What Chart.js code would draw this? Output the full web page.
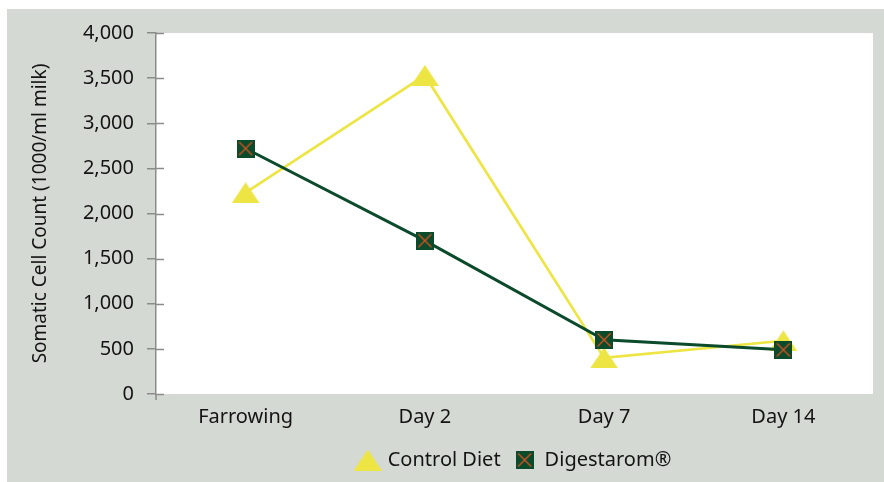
<!DOCTYPE html>
<html>
<head>
<meta charset="utf-8">
<script src="https://cdn.jsdelivr.net/npm/chart.js@4"></script>
<style>
  html, body { margin: 0; padding: 0; background: #ffffff; }
  #wrap { width: 884px; height: 482px; }
</style>
</head>
<body>
<div id="wrap"><canvas id="scc" width="884" height="482"></canvas></div>
<script>
  // ── data ──────────────────────────────────────────
  var days = ["Farrowing", "Day 2", "Day 7", "Day 14"];
  var controlDiet = [2230, 3530, 400, 590];
  var digestarom = [2720, 1700, 600, 490];
  var yTicks = [0, 500, 1000, 1500, 2000, 2500, 3000, 3500, 4000];

  var YELLOW = "#ece544";
  var GREEN = "#0b4a2b";
  var ORANGE = "#dd5420";
  var PANEL = "#d5d9d3";
  var AXIS = "#8c8c8c";
  var TEXT = "#141414";
  var FONT = "'Noto Sans', 'Open Sans', sans-serif";

  // ── marker images ─────────────────────────────────
  function triangleMark(w, h) {
    var c = document.createElement("canvas");
    c.width = w; c.height = h;
    var g = c.getContext("2d");
    g.fillStyle = YELLOW;
    g.beginPath();
    g.moveTo(w / 2, 0);
    g.lineTo(w, h);
    g.lineTo(0, h);
    g.closePath();
    g.fill();
    return c;
  }
  function crossBox(s) {
    var c = document.createElement("canvas");
    c.width = s; c.height = s;
    var g = c.getContext("2d");
    g.fillStyle = GREEN;
    g.fillRect(0, 0, s, s);
    g.strokeStyle = ORANGE;
    g.lineWidth = 1.3;
    g.beginPath();
    g.moveTo(2.5, 2.5); g.lineTo(s - 2.5, s - 2.5);
    g.moveTo(s - 2.5, 2.5); g.lineTo(2.5, s - 2.5);
    g.stroke();
    return c;
  }
  var triImg = triangleMark(28, 21);
  var boxImg = crossBox(18);

  // ── background + crossing tick marks ─────────────
  var panelPlugin = {
    id: "panel",
    beforeDraw: function (chart) {
      var ctx = chart.ctx, a = chart.chartArea;
      ctx.save();
      ctx.fillStyle = "#ffffff";
      ctx.fillRect(0, 0, chart.width, chart.height);
      ctx.fillStyle = PANEL;
      ctx.fillRect(7, 9, chart.width - 7, chart.height - 9);
      ctx.fillStyle = "#ffffff";
      ctx.fillRect(a.left, a.top, a.right - a.left, a.bottom - a.top);
      ctx.restore();
    },
    afterDraw: function (chart) {
      var ctx = chart.ctx, y = chart.scales.y, a = chart.chartArea;
      ctx.save();
      ctx.strokeStyle = AXIS;
      ctx.lineWidth = 1.5;
      ctx.beginPath();
      yTicks.forEach(function (v) {
        var py = Math.round(y.getPixelForValue(v)) + 0.5;
        ctx.moveTo(a.left, py);
        ctx.lineTo(a.left + 8, py);
      });
      ctx.moveTo(a.left, a.bottom);
      ctx.lineTo(a.left, a.bottom + 6);
      ctx.stroke();
      ctx.restore();
    }
  };

  new Chart(document.getElementById("scc").getContext("2d"), {
    type: "line",
    data: {
      labels: days,
      datasets: [
        {
          label: "Control Diet",
          data: controlDiet,
          borderColor: YELLOW,
          backgroundColor: YELLOW,
          borderWidth: 2.7,
          tension: 0,
          pointStyle: triImg,
          order: 1
        },
        {
          label: "Digestarom\u00AE",
          data: digestarom,
          borderColor: GREEN,
          backgroundColor: GREEN,
          borderWidth: 3,
          tension: 0,
          pointStyle: boxImg,
          order: 0
        }
      ]
    },
    options: {
      responsive: false,
      animation: false,
      layout: { padding: { left: 20, top: 33, right: 11, bottom: 2 } },
      plugins: {
        tooltip: { enabled: false },
        legend: {
          position: "bottom",
          fullSize: false,
          labels: {
            usePointStyle: true,
            color: TEXT,
            font: { family: FONT, size: 20 },
            padding: 14,
            sort: function (a, b) { return a.datasetIndex - b.datasetIndex; }
          }
        }
      },
      scales: {
        x: {
          offset: true,
          grid: { display: false },
          border: { display: false },
          ticks: { color: TEXT, font: { family: FONT, size: 20 }, padding: 3 },
          afterFit: function (s) { s.height = 42; }
        },
        y: {
          min: 0,
          max: 4000,
          afterBuildTicks: function (s) {
            s.ticks = yTicks.map(function (v) { return { value: v }; });
          },
          grid: { drawOnChartArea: false, drawTicks: true, tickLength: 9, color: AXIS, lineWidth: 1.5 },
          border: { display: true, color: AXIS, width: 1.5 },
          ticks: {
            color: TEXT,
            font: { family: FONT, size: 20 },
            padding: 13,
            callback: function (v) { return Number(v).toLocaleString("en-US"); }
          },
          title: {
            display: true,
            text: "Somatic Cell Count (1000/ml milk)",
            color: TEXT,
            font: { family: FONT, size: 19 },
            padding: { top: 9, bottom: 0 }
          },
          afterFit: function (s) { s.width = 136; }
        }
      }
    },
    plugins: [panelPlugin]
  });
</script>
</body>
</html>
